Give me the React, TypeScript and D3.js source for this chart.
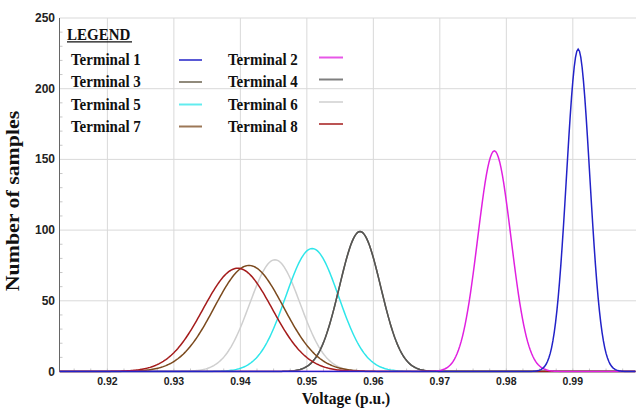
import React from "react";
import * as d3 from "d3";

const terminals = ["Terminal 1", "Terminal 2", "Terminal 3", "Terminal 4", "Terminal 5", "Terminal 6", "Terminal 7", "Terminal 8"];
// fitted distribution per terminal: mean voltage (p.u.), spread (p.u.), peak count
const meanVoltage = [0.9908, 0.9782, 0.958, 0.958, 0.9508, 0.9452, 0.9413, 0.9396];
const spreadVoltage = [0.00175, 0.0025, 0.0031, 0.0031, 0.004, 0.0038, 0.0052, 0.0052];
const peakSamples = [228, 156, 99, 99, 87, 79, 75, 73];
const colors = ["#2222c8", "#e020e0", "#6b6450", "#555555", "#2ee6ea", "#cfcfcf", "#7b4a1e", "#a51c1c"];
const drawOrder = [5, 4, 2, 3, 6, 7, 1, 0];

const xTicks = [0.92, 0.93, 0.94, 0.95, 0.96, 0.97, 0.98, 0.99];
const yTicks = [0, 50, 100, 150, 200, 250];

const W = 636;
const H = 409;
const L = 59.5;
const R = 636;
const T = 18;
const B = 371.5;
const SERIF = "'Liberation Serif', 'Times New Roman', serif";
const SANS = "'Liberation Sans', Arial, sans-serif";
const STRETCH = 1.15;

export default function App() {
  const x = d3.scaleLinear().domain([0.9128, 0.9995]).range([L, R]);
  const y = d3.scaleLinear().domain([0, 250]).range([B, T]);

  const grid = d3.range(0.9128, 0.9995, 0.0002);
  const line = d3
    .line<[number, number]>()
    .x((d) => x(d[0]))
    .y((d) => y(d[1]))
    .curve(d3.curveLinear);

  const curveFor = (i: number) =>
    line(
      grid.map((v) => [
        v,
        peakSamples[i] * Math.exp(-0.5 * Math.pow((v - meanVoltage[i]) / spreadVoltage[i], 2)),
      ]) as [number, number][]
    ) || "";

  const minorX = d3.range(0.915, 0.9995, 0.0025);
  const minorY = d3.range(10, 250, 10);

  const legendRows = [0, 1, 2, 3];
  const rowBase = [65, 86.5, 109.5, 131.5];
  const swatchY = [60, 82, 104.5, 126.5];

  return (
    <svg
      width={W}
      height={H}
      style={{ position: "absolute", left: 0, top: 0, background: "#fff" }}
    >
      <defs>
        <clipPath id="plot">
          <rect x={L} y={T - 2} width={R - L} height={B - T + 3} />
        </clipPath>
      </defs>
      <rect x={0} y={0} width={W} height={H} fill="#fff" />
      {/* grid */}
      {xTicks.map((t) => (
        <line key={"gx" + t} x1={x(t)} x2={x(t)} y1={T} y2={B} stroke="#d9d9d9" strokeWidth={1} />
      ))}
      {yTicks.slice(1).map((t) => (
        <line key={"gy" + t} x1={L} x2={R} y1={y(t)} y2={y(t)} stroke="#d9d9d9" strokeWidth={1} />
      ))}
      {minorY.filter((t) => t % 50 !== 0).map((t) => (
        <line key={"my" + t} x1={L} x2={L + 3} y1={y(t)} y2={y(t)} stroke="#c8c8c8" strokeWidth={1} />
      ))}
      {minorX.map((t) => (
        <line key={"mx" + t} x1={x(t)} x2={x(t)} y1={B} y2={B - 3} stroke="#c8c8c8" strokeWidth={1} />
      ))}
      {/* axes */}
      <line x1={L} x2={R} y1={B} y2={B} stroke="#9a9a9a" strokeWidth={1} />
      <line x1={L} x2={L} y1={T} y2={B} stroke="#666" strokeWidth={1} />
      {/* curves */}
      <g clipPath="url(#plot)">
        {drawOrder.map((i) => (
          <path key={"c" + i} d={curveFor(i)} fill="none" stroke={colors[i]} strokeWidth={1.5} />
        ))}
      </g>
      {/* tick labels */}
      {yTicks.map((t) => (
        <text
          key={"yl" + t}
          x={55}
          y={y(t)}
          textAnchor="end"
          dominantBaseline="central"
          fontFamily={SANS}
          fontWeight="bold"
          fontSize={12}
          fill="#222"
        >
          {t}
        </text>
      ))}
      {xTicks.map((t) => (
        <text
          key={"xl" + t}
          x={x(t)}
          y={381}
          textAnchor="middle"
          dominantBaseline="central"
          fontFamily={SANS}
          fontWeight="bold"
          fontSize={10.5}
          fill="#222"
        >
          {t.toFixed(2)}
        </text>
      ))}
      {/* axis titles */}
      <text
        transform={`translate(346,403.5) scale(1,1.07)`}
        textAnchor="middle"
        fontFamily={SERIF}
        fontWeight="bold"
        fontSize={15.5}
        fill="#111"
      >
        Voltage (p.u.)
      </text>
      <text
        transform={`translate(18.5,201) rotate(-90) scale(${STRETCH},1)`}
        textAnchor="middle"
        fontFamily={SERIF}
        fontWeight="bold"
        fontSize={19}
        fill="#111"
      >
        Number of samples
      </text>
      {/* legend */}
      <text
        transform={`translate(67,40) scale(1,${STRETCH})`}
        fontFamily={SERIF}
        fontWeight="bold"
        fontSize={15}
        fill="#111"
      >
        LEGEND
      </text>
      <line x1={67} x2={132} y1={41.8} y2={41.8} stroke="#111" strokeWidth={1.3} />
      {legendRows.map((r) => (
        <g key={"lg" + r}>
          <text
            transform={`translate(71,${rowBase[r]}) scale(1,${STRETCH})`}
            fontFamily={SERIF}
            fontWeight="bold"
            fontSize={15}
            fill="#111"
          >
            {terminals[r * 2]}
          </text>
          <line x1={179} x2={202} y1={swatchY[r]} y2={swatchY[r]} stroke={colors[r * 2]} strokeWidth={2} opacity={0.75} />
          <text
            transform={`translate(228,${rowBase[r]}) scale(1,${STRETCH})`}
            fontFamily={SERIF}
            fontWeight="bold"
            fontSize={15}
            fill="#111"
          >
            {terminals[r * 2 + 1]}
          </text>
          <line x1={319} x2={343} y1={swatchY[r] - 2.5} y2={swatchY[r] - 2.5} stroke={colors[r * 2 + 1]} strokeWidth={2} opacity={0.75} />
        </g>
      ))}
    </svg>
  );
}
